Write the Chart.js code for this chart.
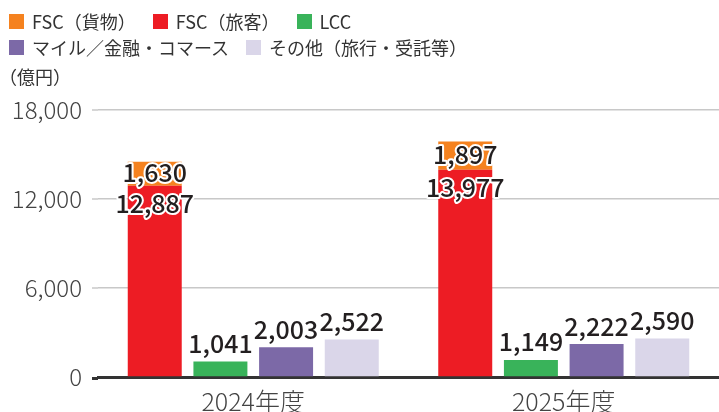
<!DOCTYPE html>
<html>
<head>
  <meta charset="utf-8">
  <title>セグメント別売上</title>
  <script src="https://cdn.jsdelivr.net/npm/chart.js"></script>
  <style>
    body { margin: 0; background: #fff; font-family: "Noto Sans CJK JP", "Noto Sans", sans-serif; }
    #wrap { position: relative; width: 719px; height: 412px; }
    #legend { position: absolute; left: 9px; top: 8px; font-size: 18px; color: #333; }
    .row { display: flex; height: 26px; align-items: center; }
    .item { display: flex; align-items: center; margin-right: 17px; }
    .box { display: inline-block; width: 15px; height: 15px; margin-right: 8px; }
    #unit { position: absolute; left: -1px; top: 63px; font-size: 18px; color: #333; }
  </style>
</head>
<body>
  <div id="wrap">
    <canvas id="chart"></canvas>
    <div id="legend"></div>
    <div id="unit">（億円）</div>
  </div>

  <script>
    const categories = ["2024年度", "2025年度"];
    const fscCargo = [1630, 1897];
    const fscPassenger = [12887, 13977];
    const lcc = [1041, 1149];
    const mileage = [2003, 2222];
    const other = [2522, 2590];

    const legendRows = [
      [["FSC（貨物）", "#f5821f"], ["FSC（旅客）", "#ed1c24"], ["LCC", "#39b35a"]],
      [["マイル／金融・コマース", "#7c69a7"], ["その他（旅行・受託等）", "#dad6e9"]]
    ];

    // build the legend by hand so it wraps the same way as the original
    const legendEl = document.getElementById("legend");
    legendRows.forEach(row => {
      const r = document.createElement("div");
      r.className = "row";
      row.forEach(([label, color]) => {
        const it = document.createElement("div");
        it.className = "item";
        it.innerHTML = `<span class="box" style="background:${color}"></span>${label}`;
        r.appendChild(it);
      });
      legendEl.appendChild(r);
    });

    // gridlines in the original start a little left of the bars area
    const gridStub = {
      id: "gridStub",
      beforeDatasetsDraw(chart) {
        const { ctx, chartArea, scales } = chart;
        ctx.save();
        scales.y.ticks.forEach(t => {
          const y = scales.y.getPixelForValue(t.value);
          ctx.strokeStyle = t.value === 0 ? "#333" : "#c8c8c8";
          ctx.lineWidth = t.value === 0 ? 3 : 1.5;
          ctx.beginPath();
          ctx.moveTo(92, t.value === 0 ? y + 1.5 : y);
          ctx.lineTo(chartArea.left, t.value === 0 ? y + 1.5 : y);
          ctx.stroke();
        });
        ctx.restore();
      }
    };

    // value labels with a white outline
    const valueLabels = {
      id: "valueLabels",
      afterDatasetsDraw(chart) {
        const ctx = chart.ctx;
        ctx.save();
        ctx.font = "500 25px 'Noto Sans CJK JP'";
        ctx.textAlign = "center";
        ctx.textBaseline = "middle";
        ctx.lineJoin = "round";
        chart.data.datasets.forEach((ds, i) => {
          const meta = chart.getDatasetMeta(i);
          meta.data.forEach((bar, j) => {
            const text = ds.data[j].toLocaleString("en-US");
            let y;
            if (ds.pos === "mid") y = (bar.y + bar.base) / 2 - 1;
            else if (ds.pos === "inside") y = bar.y + 18;
            else y = bar.y - 18;
            ctx.lineWidth = 4;
            ctx.strokeStyle = "#fff";
            ctx.strokeText(text, bar.x, y);
            ctx.fillStyle = "#231f20";
            ctx.fillText(text, bar.x, y);
          });
        });
        ctx.restore();
      }
    };

    const barOpts = { barPercentage: 0.822, categoryPercentage: 0.846 };

    new Chart(document.getElementById("chart"), {
      type: "bar",
      data: {
        labels: categories,
        datasets: [
          { label: "FSC（旅客）", data: fscPassenger, backgroundColor: "#ed1c24", stack: "fsc", pos: "inside", ...barOpts },
          { label: "FSC（貨物）", data: fscCargo, backgroundColor: "#f5821f", stack: "fsc", pos: "mid", ...barOpts },
          { label: "LCC", data: lcc, backgroundColor: "#39b35a", stack: "lcc", ...barOpts },
          { label: "マイル／金融・コマース", data: mileage, backgroundColor: "#7c69a7", stack: "mile", ...barOpts },
          { label: "その他（旅行・受託等）", data: other, backgroundColor: "#dad6e9", stack: "other", ...barOpts }
        ]
      },
      options: {
        responsive: true,
        maintainAspectRatio: false,
        animation: false,
        layout: { padding: { top: 110, right: 0, left: 0, bottom: 0 } },
        plugins: {
          legend: { display: false },
          tooltip: { enabled: false }
        },
        scales: {
          x: {
            stacked: true,
            grid: { display: false },
            border: { color: "#333", width: 3 },
            ticks: { color: "#444", font: { family: "Noto Sans CJK JP", size: 25, weight: 300 }, padding: 1 },
            afterFit: s => { s.height = 35; }
          },
          y: {
            stacked: true,
            min: 0,
            max: 18000,
            grid: { color: "#c8c8c8", lineWidth: 1.5, drawTicks: false },
            border: { display: false },
            ticks: {
              stepSize: 6000,
              color: "#444",
              padding: 16,
              font: { family: "Noto Sans CJK JP", size: 24, weight: 300 },
              callback: v => v.toLocaleString("en-US")
            },
            afterFit: s => { s.width = 98; }
          }
        }
      },
      plugins: [gridStub, valueLabels]
    });
  </script>
</body>
</html>
